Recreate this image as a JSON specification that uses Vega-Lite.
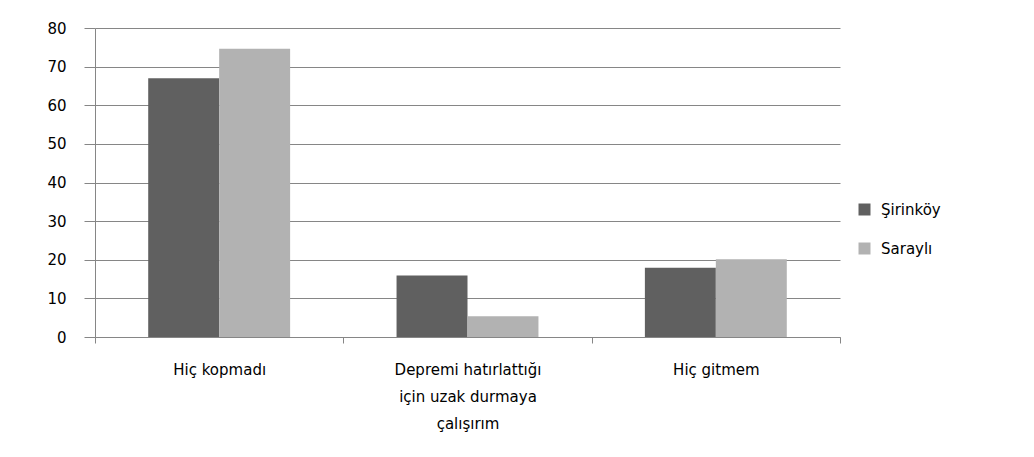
{
  "$schema": "https://vega.github.io/schema/vega-lite/v6.json",
  "autosize": {"type": "none"},
  "width": 745,
  "height": 309,
  "padding": {"left": 95, "top": 28, "right": 194, "bottom": 120},
  "background": "white",
  "config": {
    "view": {"stroke": null},
    "font": "DejaVu Sans",
    "axis": {"labelFont": "DejaVu Sans", "labelFontSize": 15, "labelColor": "#000000"}
  },
  "data": {
    "values": [
      {"kategori": "Hiç kopmadı", "yer": "Şirinköy", "deger": 67.0},
      {"kategori": "Hiç kopmadı", "yer": "Saraylı", "deger": 74.6},
      {"kategori": "Depremi hatırlattığı için uzak durmaya çalışırım", "yer": "Şirinköy", "deger": 15.9},
      {"kategori": "Depremi hatırlattığı için uzak durmaya çalışırım", "yer": "Saraylı", "deger": 5.4},
      {"kategori": "Hiç gitmem", "yer": "Şirinköy", "deger": 17.9},
      {"kategori": "Hiç gitmem", "yer": "Saraylı", "deger": 20.1}
    ]
  },
  "mark": {"type": "bar"},
  "encoding": {
    "x": {
      "field": "kategori",
      "type": "nominal",
      "sort": null,
      "scale": {"paddingInner": 0, "paddingOuter": 0},
      "axis": {
        "title": null,
        "labelAngle": 0,
        "labelPadding": 19,
        "labelLineHeight": 27,
        "labelBaseline": "top",
        "labelExpr": "datum.value == 'Depremi hatırlattığı için uzak durmaya çalışırım' ? ['Depremi hatırlattığı', 'için uzak durmaya', 'çalışırım'] : datum.value",
        "tickBand": "extent",
        "tickSize": 6,
        "tickColor": "#868686",
        "domainColor": "#868686",
        "grid": false
      }
    },
    "xOffset": {
      "field": "yer",
      "type": "nominal",
      "sort": ["Şirinköy", "Saraylı"],
      "scale": {"paddingInner": 0, "paddingOuter": 0.75}
    },
    "y": {
      "field": "deger",
      "type": "quantitative",
      "scale": {"domain": [0, 80], "nice": false},
      "axis": {
        "title": null,
        "values": [0, 10, 20, 30, 40, 50, 60, 70, 80],
        "tickSize": 11,
        "tickColor": "#868686",
        "domainColor": "#868686",
        "gridColor": "#868686",
        "labelPadding": 18
      }
    },
    "color": {
      "field": "yer",
      "type": "nominal",
      "sort": ["Şirinköy", "Saraylı"],
      "scale": {"domain": ["Şirinköy", "Saraylı"], "range": ["#606060", "#b2b2b2"]},
      "legend": {
        "title": null,
        "orient": "none",
        "legendX": 762,
        "legendY": 174,
        "symbolType": "square",
        "symbolSize": 144,
        "symbolStrokeWidth": 0,
        "labelFontSize": 15,
        "labelFont": "DejaVu Sans",
        "rowPadding": 23,
        "labelOffset": 9
      }
    }
  }
}
